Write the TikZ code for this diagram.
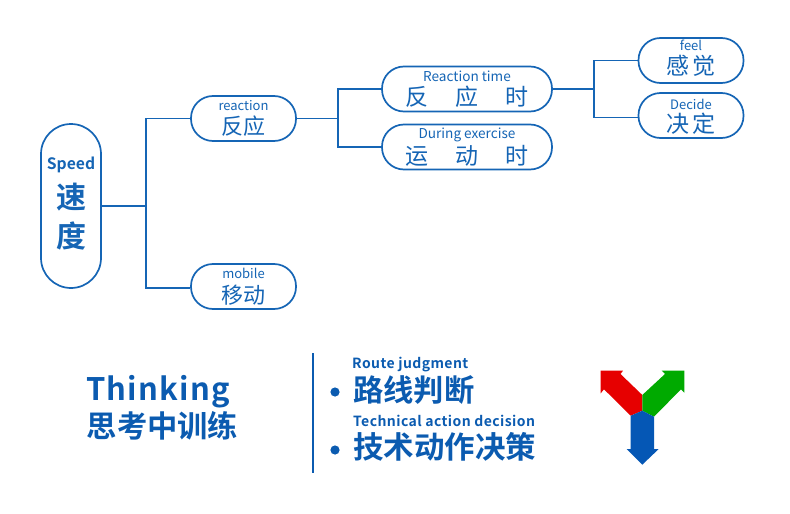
\documentclass[tikz,border=0pt]{standalone}
\usepackage{fontspec}
\usetikzlibrary{positioning}
\setmainfont{Noto Sans CJK SC}
\newfontfamily\cjkstrong{Noto Sans CJK SC Bold}
\newfontfamily\cjktrack[LetterSpace=3]{Noto Sans CJK SC Bold}
\newfontfamily\cjkwide[LetterSpace=4]{Noto Sans CJK SC Bold}
\definecolor{skillblue}{HTML}{1565B5}
\definecolor{footblue}{HTML}{0B5BB0}
\definecolor{ygreen}{HTML}{00AA00}
\definecolor{yred}{HTML}{E60000}
\definecolor{yblue}{HTML}{0557B5}
\newcommand{\fsz}[1]{\fontsize{#1}{#1}\selectfont}
\tikzset{
  pill/.style={draw=skillblue, line width=1.7pt, fill=white, rounded corners=22pt,
    minimum width=105pt, minimum height=45pt, inner sep=0pt, text=skillblue, align=center},
  widepill/.style={pill, minimum width=170pt},
  link/.style={draw=skillblue, line width=1.7pt},
  foot/.style={text=footblue, inner sep=0pt, anchor=west}
}
\begin{document}
\begin{tikzpicture}[x=1pt, y=-1pt]
    \useasboundingbox (0,0) rectangle (790,514);
    % tree
    \node[pill, minimum width=60pt, minimum height=164pt, rounded corners=30pt] (speed) at (71,206)
      {{\fsz{15.7}\cjkstrong Speed}\\[9pt]{\fsz{30}\cjkstrong 速}\\[10pt]{\fsz{30}\cjkstrong 度\rule[-8pt]{0pt}{0pt}}};
    \node[pill] (react) at (243.5,118.5) {{\fsz{13}reaction}\\[5pt]{\fsz{22}反应}};
    \node[pill] (mobile) at (243.5,286.5) {{\fsz{13}mobile}\\[5pt]{\fsz{22}移动}};
    \node[widepill] (rtime) at (467,89) {{\fsz{13.6}Reaction time}\\[3pt]{\fsz{23}反\hspace{27pt}应\hspace{27pt}时}};
    \node[widepill] (during) at (467,147) {{\fsz{13.6}During exercise}\\[3pt]{\fsz{23}运\hspace{27pt}动\hspace{27pt}时}};
    \node[pill] (feel) at (691,60.5) {{\fsz{13}feel}\\[3pt]{\fsz{23}感\hspace{4pt}觉\rule[-6pt]{0pt}{0pt}}};
    \node[pill] (decide) at (691,115.5) {{\fsz{13}\rule{0pt}{13pt}Decide}\\[3pt]{\fsz{23}决\hspace{4pt}定}};
    \coordinate (forkA) at (146,206);
    \coordinate (forkB) at (338,118.5);
    \coordinate (forkC) at (594,89);
    \draw[link] (speed) -- (forkA);
    \draw[link] (react) -| (forkA) |- ([yshift=-1.5pt]mobile.west);
    \draw[link] (react) -- (forkB);
    \draw[link] (rtime) -| (forkB) |- (during);
    \draw[link] (rtime) -- (forkC);
    \draw[link] (feel) -| (forkC) |- ([yshift=-2pt]decide.west);
    % bottom row
    \node[foot] (think) at (86,392) {\cjkwide\fsz{31}Thinking};
    \node[foot] (thinkcn) at (86.5,426) {\fsz{30.3}\cjkstrong 思考中训练};
    \draw[footblue, line width=2.4pt] (313,353) -- (313,473);
    \fill[footblue] (335,392) circle (4.6pt);
    \fill[footblue] (335,450) circle (4.6pt);
    \node[foot] (route) at (352,364.5) {\cjktrack\fsz{14}Route judgment};
    \node[foot] (routecn) at (353,390) {\fsz{30.3}\cjkstrong 路线判断};
    \node[foot] (tech) at (353,421) {\cjktrack\fsz{14}Technical action decision};
    \node[foot] (techcn) at (353,447) {\fsz{30.5}\cjkstrong 技术动作决策};
    % three-way arrow
    \fill[yred] (600.7,370.7) -- (623,370.7) -- (620.5,374) -- (642.3,395) -- (642.3,410.7)
      -- (630.7,415.7) -- (604,389.3) -- (600.7,393.3) -- cycle;
    \fill[ygreen] (684.3,370.7) -- (661.7,370.7) -- (665,374) -- (642.3,395) -- (642.3,410.7)
      -- (654,416.7) -- (681,389.3) -- (684.3,392.7) -- cycle;
    \fill[yblue] (642.3,410.7) -- (654,416.7) -- (654,449) -- (658.7,449) -- (642.3,464.7)
      -- (626.7,449) -- (630.7,449) -- (630.7,415.7) -- cycle;
\end{tikzpicture}
\end{document}
